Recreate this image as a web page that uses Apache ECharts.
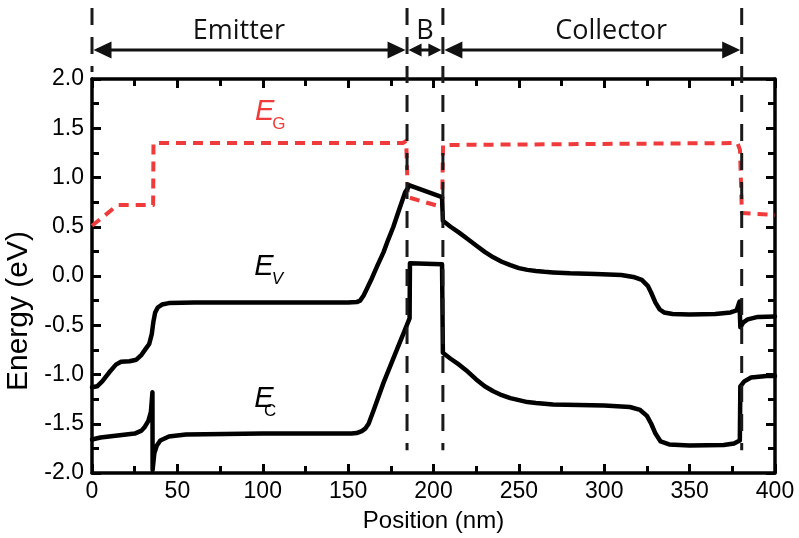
<!DOCTYPE html>
<html>
<head>
<meta charset="utf-8">
<script src="https://cdn.jsdelivr.net/npm/echarts@6/dist/echarts.min.js"></script>
<style>
  html, body { margin: 0; padding: 0; background: #fff; }
  #chart { width: 799px; height: 538px; }
</style>
</head>
<body>
<div id="chart"></div>
<script>
// Band-edge profile of the HBT layer stack: position (nm) vs energy (eV)
const bandGap = [
  [0, 0.51], [15, 0.72], [35.8, 0.72], [36, 1.35], [182, 1.35], [184, 1.37],
  [185, 0.8], [205, 0.7], [205.6, 1.33], [206.5, 1.35], [378, 1.35], [379.5, 1.28],
  [380.6, 0.64], [381.5, 0.62], [400, 0.62]
];
const valenceBand = [
  [0, -1.13], [3, -1.12], [6, -1.07], [10, -0.98], [14, -0.9], [17, -0.87], [22, -0.865],
  [26, -0.85], [29, -0.8], [31, -0.75], [33.5, -0.69], [35, -0.59], [36, -0.46],
  [37, -0.37], [38.5, -0.32], [41, -0.29], [45, -0.275], [60, -0.27], [100, -0.27],
  [150, -0.27], [155, -0.265], [157, -0.25], [159, -0.2], [161, -0.13], [164, -0.02],
  [167, 0.1], [170.7, 0.24], [173.5, 0.37], [176.5, 0.5], [180, 0.68], [183.4, 0.85],
  [186, 0.92], [205, 0.8], [205.5, 0.56], [210, 0.5], [215, 0.44], [220, 0.375],
  [225, 0.31], [230, 0.245], [235, 0.19], [240, 0.145], [245, 0.11], [250, 0.08],
  [255, 0.062], [260, 0.05], [265, 0.042], [270, 0.036], [280, 0.027], [295, 0.02],
  [310, 0.01], [317, -0.01], [322, -0.04], [325.5, -0.1], [327.5, -0.17], [330, -0.27],
  [332.5, -0.34], [335, -0.37], [340, -0.385], [350, -0.39], [365, -0.385], [374, -0.37],
  [377.5, -0.35], [379.2, -0.26], [379.7, -0.52], [381.5, -0.47], [384, -0.44],
  [390, -0.415], [400, -0.41]
];
const conductionBand = [
  [0, -1.66], [5, -1.64], [15, -1.62], [25, -1.6], [29, -1.57], [31, -1.53],
  [33, -1.47], [34.5, -1.38], [35.4, -1.18], [35.5, -1.97], [36.5, -1.8], [38, -1.72],
  [40, -1.67], [45, -1.63], [55, -1.61], [100, -1.6], [152, -1.6], [155, -1.595],
  [158, -1.575], [160, -1.55], [162, -1.5], [165, -1.36], [170.7, -1.085], [178.5, -0.75],
  [186, -0.43], [186.2, 0.13], [205, 0.12], [205.5, -0.78], [210, -0.84], [215, -0.9],
  [220, -0.97], [225, -1.05], [230, -1.12], [235, -1.17], [240, -1.21], [245, -1.24],
  [250, -1.26], [255, -1.28], [260, -1.29], [270, -1.305], [285, -1.31], [300, -1.315],
  [315, -1.33], [321, -1.36], [325, -1.42], [327.5, -1.5], [330, -1.6], [333, -1.68],
  [338, -1.71], [350, -1.72], [370, -1.715], [376, -1.7], [379.4, -1.67], [379.7, -1.12],
  [382, -1.07], [386, -1.03], [395, -1.015], [400, -1.015]
];

// Layer boundaries (nm) and region names for the header arrows
const regionBounds = [0, 184.5, 205.5, 380.5];
const regionNames = ['Emitter', 'B', 'Collector'];
const regionLabelX = [86, 195, 304];

// Axis ranges and tick steps
const xRange = [0, 400], xStep = 50;
const yRange = [-2, 2], yStep = 0.5;

const FONT = '"Liberation Sans", Arial, Helvetica, sans-serif';
const LABEL_FONT = '"Open Sans", "Noto Sans", sans-serif';
const RED = '#ef3b3b';

function axisCommon() {
  return {
    axisLine: { show: true, onZero: false, lineStyle: { color: '#000', width: 3.5 } },
    axisTick: { show: true, inside: true, length: 9, lineStyle: { color: '#000', width: 3 } },
    minorTick: { show: true, splitNumber: 2, length: 7, lineStyle: { color: '#000', width: 3 } },
    splitLine: { show: false },
    minorSplitLine: { show: false }
  };
}

const option = {
  animation: false,
  backgroundColor: '#fff',
  grid: { left: 92, right: 24, top: 79, bottom: 65, containLabel: false, outerBoundsMode: 'none' },
  xAxis: [
    Object.assign(axisCommon(), {
      type: 'value', position: 'bottom', min: xRange[0], max: xRange[1], interval: xStep,
      name: 'Position (nm)', nameLocation: 'middle', nameGap: 36,
      nameTextStyle: { color: '#000', fontSize: 24, fontFamily: FONT },
      axisLabel: { color: '#000', fontSize: 23, fontFamily: FONT, margin: 7 }
    }),
    Object.assign(axisCommon(), {
      type: 'value', position: 'top', min: xRange[0], max: xRange[1], interval: xStep,
      axisLabel: { show: false }
    })
  ],
  yAxis: [
    Object.assign(axisCommon(), {
      type: 'value', position: 'left', min: yRange[0], max: yRange[1], interval: yStep,
      name: 'Energy (eV)', nameLocation: 'middle', nameGap: 56, nameRotate: 90,
      nameTextStyle: { color: '#000', fontSize: 30, fontFamily: FONT, padding: [0, 70, 0, 0] },
      axisLabel: { color: '#000', fontSize: 23, fontFamily: FONT, margin: 8,
        formatter: v => v.toFixed(1) }
    }),
    Object.assign(axisCommon(), {
      type: 'value', position: 'right', min: yRange[0], max: yRange[1], interval: yStep,
      axisLabel: { show: false }
    })
  ],
  series: [
    {
      name: 'EG', type: 'line', data: bandGap, showSymbol: false, z: 3,
      lineStyle: { color: RED, width: 4, type: [10, 7], cap: 'butt', join: 'round' }
    },
    {
      name: 'EV', type: 'line', data: valenceBand, showSymbol: false, z: 4,
      lineStyle: { color: '#000', width: 4.5, join: 'round', cap: 'round' }
    },
    {
      name: 'EC', type: 'line', data: conductionBand, showSymbol: false, z: 4,
      lineStyle: { color: '#000', width: 4.5, join: 'round', cap: 'round' }
    }
  ]
};

const chart = echarts.init(document.getElementById('chart'), null, { renderer: 'canvas' });
chart.setOption(option);

const px = (x, y) => chart.convertToPixel({ gridIndex: 0 }, [x, y]);

// Header: dashed boundary lines, double arrows and region names
const graphics = [];
const arrowY = 50;
const dashStyle = { stroke: '#1a1a1a', lineWidth: 3, lineDash: [17, 12] };
regionBounds.forEach((b, i) => {
  const xPix = px(b, 0)[0];
  const yEnd = i === 0 ? 72 : px(b, -1.77)[1];
  graphics.push({ type: 'line', z: 10, shape: { x1: xPix, y1: 8, x2: xPix, y2: yEnd }, style: dashStyle });
});

function arrowHead(tipX, dir, len, half) {
  return {
    type: 'polygon', z: 11,
    shape: { points: [[tipX, arrowY], [tipX + dir * len, arrowY - half], [tipX + dir * len, arrowY + half]] },
    style: { fill: '#111' }
  };
}

for (let i = 0; i < regionNames.length; i++) {
  const xa = px(regionBounds[i], 0)[0] + 1.5;
  const xb = px(regionBounds[i + 1], 0)[0] - 1.5;
  const small = (xb - xa) < 60;
  const len = small ? 13 : 18;
  const half = small ? 6.5 : 8.5;
  graphics.push({ type: 'line', z: 11, shape: { x1: xa + 4, y1: arrowY, x2: xb - 4, y2: arrowY },
    style: { stroke: '#111', lineWidth: 3 } });
  graphics.push(arrowHead(xa, 1, len, half));
  graphics.push(arrowHead(xb, -1, len, half));
  graphics.push({
    type: 'text', z: 11,
    x: px(regionLabelX[i], 0)[0], y: 31,
    style: { text: regionNames[i], fill: '#111', font: '27px ' + LABEL_FONT, align: 'center', verticalAlign: 'middle' }
  });
}

// Curve labels: italic E with subscript
function bandLabel(ex, ey, sx, sy, sub, color, subItalic) {
  const e = px(ex, ey);
  const s = px(sx, sy);
  graphics.push({ type: 'text', z: 12, x: e[0], y: e[1],
    style: { text: 'E', fill: color, font: 'italic 29px ' + FONT, align: 'left', verticalAlign: 'middle' } });
  graphics.push({ type: 'text', z: 12, x: s[0], y: s[1],
    style: { text: sub, fill: color, font: (subItalic ? 'italic ' : '') + '17px ' + FONT, align: 'left', verticalAlign: 'middle' } });
}
bandLabel(95.5, 1.67, 105.5, 1.54, 'G', RED, false);
bandLabel(95, 0.088, 105.3, -0.035, 'V', '#000', true);
bandLabel(95, -1.249, 100.8, -1.378, 'C', '#000', false);

chart.setOption({ graphic: graphics });
</script>
</body>
</html>
